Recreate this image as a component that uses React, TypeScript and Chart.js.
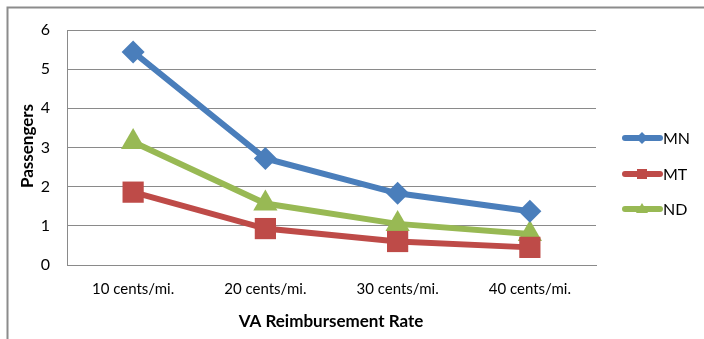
import React, { useEffect, useRef } from "react";
import { Chart, registerables } from "chart.js";

Chart.register(...registerables);

const categories = ["10 cents/mi.", "20 cents/mi.", "30 cents/mi.", "40 cents/mi."];
const mnValues = [5.44, 2.72, 1.83, 1.37];
const mtValues = [1.86, 0.93, 0.6, 0.45];
const ndValues = [3.14, 1.57, 1.05, 0.79];
const yTicks = [0, 1, 2, 3, 4, 5, 6];

const FONT = "Lato, 'Open Sans', sans-serif";
const GRID = "#8a8a8a";

const W = 704;
const H = 339;
const PLOT_LEFT = 67;
const PLOT_RIGHT = 596;
const PLOT_TOP = 30;
const PLOT_BOTTOM = 265;

// Frame, axis titles and the legend on the right
const decorations = {
  id: "decorations",
  afterDraw(chart: Chart) {
    const ctx = chart.ctx;
    ctx.save();
    // outer frame (top and left edges)
    ctx.strokeStyle = "#8c8c8c";
    ctx.lineWidth = 2;
    ctx.beginPath();
    ctx.moveTo(7.5, H);
    ctx.lineTo(7.5, 7.5);
    ctx.lineTo(W, 7.5);
    ctx.stroke();

    ctx.fillStyle = "#000";
    ctx.font = `bold 17px ${FONT}`;
    ctx.textAlign = "center";
    ctx.textBaseline = "middle";
    ctx.fillText("VA Reimbursement Rate", 331, 322);
    ctx.save();
    ctx.translate(28, 146);
    ctx.rotate(-Math.PI / 2);
    ctx.fillText("Passengers", 0, 0);
    ctx.restore();

    // legend
    const rows = [138, 174, 209];
    chart.data.datasets.forEach((ds: any, i: number) => {
      const y = rows[i];
      ctx.strokeStyle = ds.borderColor;
      ctx.lineWidth = 6;
      ctx.lineCap = "round";
      ctx.beginPath();
      ctx.moveTo(625, y);
      ctx.lineTo(660, y);
      ctx.stroke();
      ctx.fillStyle = ds.backgroundColor;
      ctx.beginPath();
      if (ds.pointStyle === "rectRot") {
        ctx.moveTo(642, y - 6);
        ctx.lineTo(648, y);
        ctx.lineTo(642, y + 6);
        ctx.lineTo(636, y);
      } else if (ds.pointStyle === "rect") {
        ctx.rect(637, y - 5, 10, 10);
      } else {
        ctx.moveTo(642, y - 6);
        ctx.lineTo(648, y + 4);
        ctx.lineTo(636, y + 4);
      }
      ctx.closePath();
      ctx.fill();
      ctx.fillStyle = "#000";
      ctx.font = `16px ${FONT}`;
      ctx.textAlign = "left";
      ctx.fillText(ds.label, 663, y + 1);
    });
    ctx.restore();
  },
};

export default function App() {
  const ref = useRef<HTMLCanvasElement>(null);

  useEffect(() => {
    if (!ref.current) return;
    const chart = new Chart(ref.current, {
      type: "line",
      data: {
        labels: categories,
        datasets: [
          {
            label: "MN",
            data: mnValues,
            borderColor: "#4a7ebb",
            backgroundColor: "#4a7ebb",
            borderWidth: 6,
            pointStyle: "rectRot",
            pointRadius: 11.5,
            pointBorderWidth: 0,
          },
          {
            label: "MT",
            data: mtValues,
            borderColor: "#be4b48",
            backgroundColor: "#be4b48",
            borderWidth: 6,
            pointStyle: "rect",
            pointRadius: 15,
            pointBorderWidth: 0,
          },
          {
            label: "ND",
            data: ndValues,
            borderColor: "#98b954",
            backgroundColor: "#98b954",
            borderWidth: 6,
            pointStyle: "triangle",
            pointRadius: 14,
            pointBorderWidth: 0,
          },
        ],
      },
      options: {
        responsive: false,
        animation: false,
        layout: { padding: { top: PLOT_TOP, right: W - PLOT_RIGHT, left: 0, bottom: 0 } },
        plugins: { legend: { display: false }, tooltip: { enabled: false } },
        scales: {
          x: {
            type: "category",
            offset: true,
            grid: { display: false, drawTicks: false },
            border: { display: true, color: GRID, width: 1 },
            ticks: { color: "#000", font: { family: FONT, size: 15 }, padding: 15 },
            afterFit(scale: any) {
              scale.height = H - PLOT_BOTTOM;
            },
          },
          y: {
            min: 0,
            max: 6,
            afterBuildTicks(scale: any) {
              scale.ticks = yTicks.map((v) => ({ value: v }));
            },
            grid: { color: GRID, lineWidth: 1, drawTicks: false },
            border: { display: true, color: GRID, width: 1 },
            ticks: { color: "#000", font: { family: FONT, size: 16 }, padding: 17 },
            afterFit(scale: any) {
              scale.width = PLOT_LEFT;
            },
          },
        },
      },
      plugins: [decorations],
    });
    return () => chart.destroy();
  }, []);

  return (
    <div style={{ position: "fixed", left: 0, top: 0, width: W, height: H, background: "#fff" }}>
      <canvas ref={ref} width={W} height={H} style={{ display: "block" }} />
    </div>
  );
}
